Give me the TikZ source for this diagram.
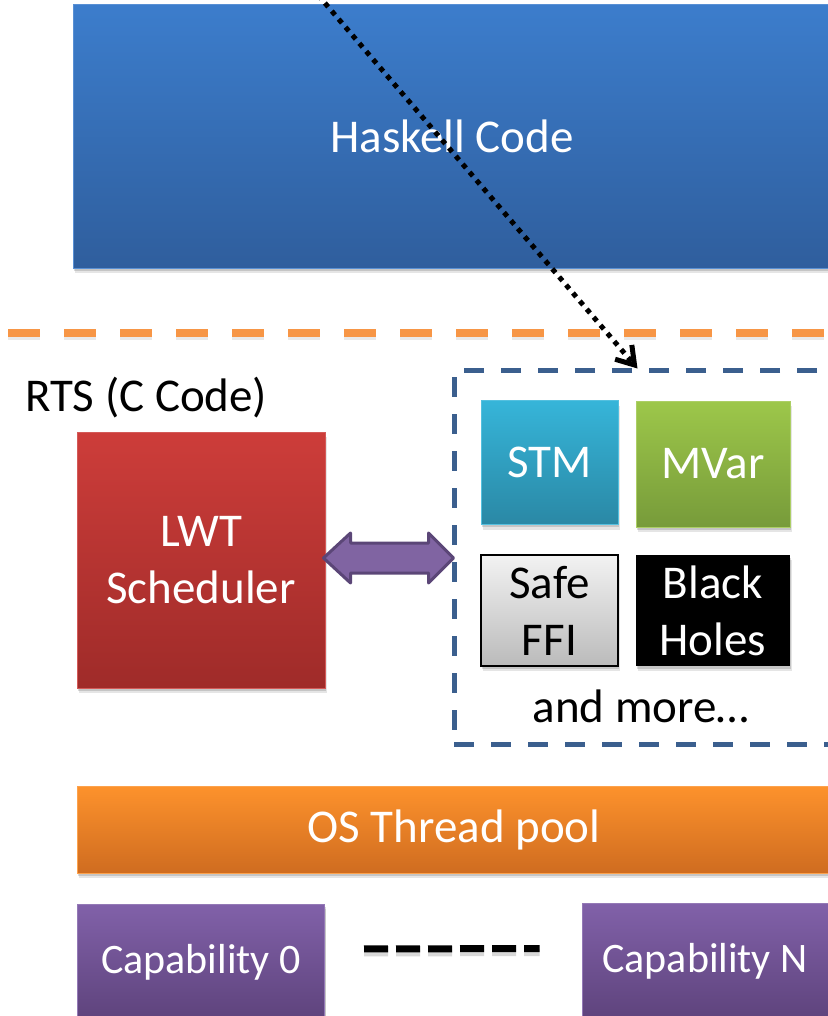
\documentclass[tikz,border=0pt]{standalone}
\usepackage{fontspec}
\setmainfont{Carlito}
\usetikzlibrary{arrows.meta,shadows,calc}

\definecolor{hsTop}{HTML}{3C7DCC}
\definecolor{hsBot}{HTML}{2F5E9D}
\definecolor{lwtTop}{HTML}{CD3D3A}
\definecolor{lwtBot}{HTML}{9F2B29}
\definecolor{stmTop}{HTML}{36B5D9}
\definecolor{stmBot}{HTML}{2A88A5}
\definecolor{mvTop}{HTML}{9DC74A}
\definecolor{mvBot}{HTML}{779B3A}
\definecolor{ffiTop}{HTML}{F2F2F2}
\definecolor{ffiBot}{HTML}{BBBBBB}
\definecolor{osTop}{HTML}{FD922C}
\definecolor{osBot}{HTML}{CF6C20}
\definecolor{capTop}{HTML}{8161A9}
\definecolor{capBot}{HTML}{5E437C}
\definecolor{grpLine}{HTML}{3B5F8E}
\definecolor{sepLine}{HTML}{F79646}
\definecolor{arrFill}{HTML}{8064A2}
\definecolor{arrLine}{HTML}{5B4677}

\newcommand\diagfont{\fontsize{47}{57}\selectfont}
\newcommand\capfont{\fontsize{42}{50}\selectfont}

\begin{document}
\begin{tikzpicture}[x=1pt,y=-1pt,
  softshadow/.style={
    drop shadow={shadow xshift=1pt,shadow yshift=-2.5pt,opacity=.14,fill=black},
    drop shadow={shadow xshift=1.5pt,shadow yshift=-5pt,opacity=.10,fill=black}},
  box/.style={rectangle,inner sep=0pt,align=center,text=white,font=\diagfont,softshadow},
  grad/.style 2 args={top color=#1,bottom color=#2,draw=#1!85!white,line width=1pt},
  groupbox/.style={rectangle,draw=grpLine,line width=5pt,dash pattern=on 20pt off 17pt},
  seprule/.style={draw=sepLine,line width=8pt,dash pattern=on 32pt off 24pt},
  callarrow/.style={draw=black,line width=5pt,dash pattern=on 5pt off 5.6pt,
    -{Straight Barb[length=17pt,width=22pt,line width=5pt]}},
  fatarrow/.style={fill=arrFill,draw=arrLine,line width=3pt,line join=round},
  ellipsis/.style={draw=black,line width=7pt,dash pattern=on 24pt off 8pt}
]
\useasboundingbox (0,0) rectangle (827,1016);

% Haskell layer
\node[box,grad={hsTop}{hsBot},minimum width=758pt,minimum height=263pt]
  (haskell) at (452,136.5) {Haskell Code};

% boundary between Haskell code and the runtime system
\coordinate (sepL) at (8,333);
\coordinate (sepR) at (860,333);
\draw[seprule,draw=black!25,opacity=.35] ([yshift=-3pt]sepL) -- ([yshift=-3pt]sepR);
\draw[seprule] (sepL) -- (sepR);

% runtime system
\node[anchor=base west,font=\diagfont,inner sep=0pt] (rts) at (25,411) {RTS (C Code)};

\node[box,grad={lwtTop}{lwtBot},minimum width=248pt,minimum height=256pt]
  (lwt) at (201,560) {LWT\\Scheduler};

\node[groupbox,minimum width=420pt,minimum height=374pt,inner sep=0pt]
  (grp) at (664,557) {};

\node[box,grad={stmTop}{stmBot},minimum width=137pt,minimum height=124pt]
  (stm) at (549.5,462.5) {STM};
\node[box,grad={mvTop}{mvBot},minimum width=154pt,minimum height=126pt]
  (mvar) at (713,464) {MVar};
\node[box,top color=ffiTop,bottom color=ffiBot,draw=black,line width=2pt,text=black,
  minimum width=137pt,minimum height=111pt]
  (ffi) at (549.5,610.5) {Safe\\FFI};
\node[box,fill=black,minimum width=154pt,minimum height=111pt]
  (bh) at (713,610.5) {Black\\Holes};
\node[font=\diagfont,inner sep=0pt] (more) at (641,706) {and more…};

% scheduler talks to the primitives
\draw[fatarrow] ($(lwt.east)+(-2,-2)$) -- ++(27,-25) -- ++(0,10) -- ++(78,0)
  -- ++(0,-10) -- ++(25,25) -- ++(-25,25) -- ++(0,-10) -- ++(-78,0)
  -- ++(0,10) -- cycle;

% call from Haskell into the RTS
\coordinate (callsrc) at (318,-5);
\coordinate (calldst) at ($(grp.north west)+(186,1)$);
\draw[callarrow] (callsrc) -- (calldst);

% OS threads and capabilities
\node[box,grad={osTop}{osBot},minimum width=754pt,minimum height=87pt]
  (os) at (454,829.5) {OS Thread pool};

\node[box,grad={capTop}{capBot},font=\capfont,minimum width=247pt,minimum height=116pt]
  (cap0) at (201,962) {Capability 0};
\node[box,grad={capTop}{capBot},font=\capfont,minimum width=246pt,minimum height=117pt]
  (capN) at (705,961.5) {Capability N};

\draw[ellipsis,draw=black!30,opacity=.5,shorten <=39pt,shorten >=42pt]
  ([yshift=9pt]cap0.east) -- ([yshift=9pt]capN.west);
\draw[ellipsis,shorten <=39pt,shorten >=42pt]
  ([yshift=13pt]cap0.east) -- ([yshift=13pt]capN.west);
\end{tikzpicture}
\end{document}
